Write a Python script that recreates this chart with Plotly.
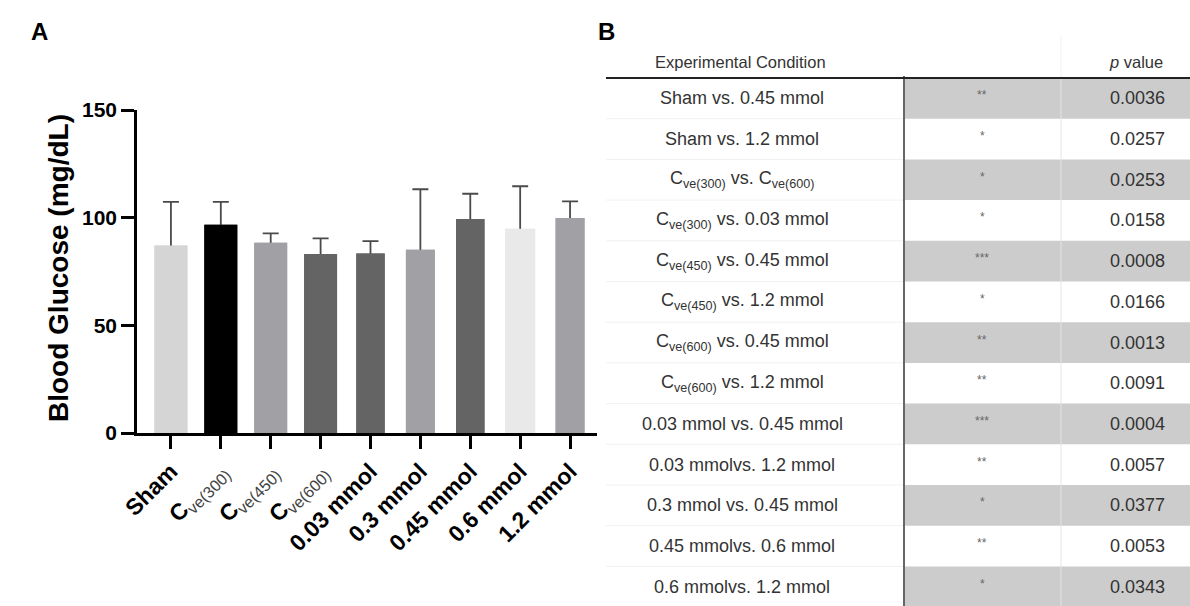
import plotly.graph_objects as go

W, H = 1190, 606

# ---------------- data: panel A ----------------
groups = ["Sham", "Cve300", "Cve450", "Cve600", "0.03 mmol", "0.3 mmol", "0.45 mmol", "0.6 mmol", "1.2 mmol"]
tick_labels = [
    "<b>Sham</b>",
    "<b>C</b><span style='color:#444'><sub>ve(300)</sub></span>",
    "<b>C</b><span style='color:#444'><sub>ve(450)</sub></span>",
    "<b>C</b><span style='color:#444'><sub>ve(600)</sub></span>",
    "<b>0.03 mmol</b>",
    "<b>0.3 mmol</b>",
    "<b>0.45 mmol</b>",
    "<b>0.6 mmol</b>",
    "<b>1.2 mmol</b>",
]
glucose_mean = [87.1, 96.7, 88.4, 83.1, 83.4, 85.1, 99.4, 94.8, 99.8]
glucose_err = [20.2, 10.6, 4.3, 7.3, 5.7, 28.1, 11.7, 19.8, 7.8]
y_ticks = [0, 50, 100, 150]

# ---------------- data: panel B ----------------
comparisons = [
    "Sham vs. 0.45 mmol",
    "Sham vs. 1.2 mmol",
    "C<sub>ve(300)</sub> vs. C<sub>ve(600)</sub>",
    "C<sub>ve(300)</sub> vs. 0.03 mmol",
    "C<sub>ve(450)</sub> vs. 0.45 mmol",
    "C<sub>ve(450)</sub> vs. 1.2 mmol",
    "C<sub>ve(600)</sub> vs. 0.45 mmol",
    "C<sub>ve(600)</sub> vs. 1.2 mmol",
    "0.03 mmol vs. 0.45 mmol",
    "0.03 mmolvs. 1.2 mmol",
    "0.3 mmol vs. 0.45 mmol",
    "0.45 mmolvs. 0.6 mmol",
    "0.6 mmolvs. 1.2 mmol",
]
significance = ["**", "*", "*", "*", "***", "*", "**", "**", "***", "**", "*", "**", "*"]
p_values = ["0.0036", "0.0257", "0.0253", "0.0158", "0.0008", "0.0166", "0.0013",
            "0.0091", "0.0004", "0.0057", "0.0377", "0.0053", "0.0343"]

# ---------------- styles ----------------
bar_colors = ["#d5d5d5", "#000000", "#a1a1a5", "#646464", "#646464",
              "#a1a1a5", "#646464", "#e9e9e9", "#a1a1a5"]
bar_widths = [0.66, 0.66, 0.66, 0.66, 0.57, 0.58, 0.57, 0.6, 0.58]
FONT = "Liberation Sans, Arial, sans-serif"
TFONT = "Liberation Sans, Arial, sans-serif"

fig = go.Figure()
xs = list(range(len(groups)))

# bars carrying the error bars (lower cap hidden by the overlay bars)
fig.add_trace(go.Bar(
    x=xs, y=glucose_mean, width=bar_widths,
    marker=dict(color=bar_colors, line=dict(width=0)),
    error_y=dict(type="data", symmetric=False, array=glucose_err,
                 arrayminus=[2] * len(groups), color="#4a4a4a", thickness=1.8, width=8),
    showlegend=False, hoverinfo="skip"))
fig.add_trace(go.Bar(
    x=xs, y=glucose_mean, width=bar_widths,
    marker=dict(color=bar_colors, line=dict(width=0)),
    showlegend=False, hoverinfo="skip"))

# pixel-space helper axes for panel labels and the table
fig.add_trace(go.Scatter(x=[None], y=[None], xaxis="x2", yaxis="y2",
                         showlegend=False, hoverinfo="skip"))

x_left, x_right = 137, 597
y_top, y_zero = 110, 433

fig.update_layout(
    template="none",
    width=W, height=H, margin=dict(l=0, r=0, t=0, b=0, pad=0),
    paper_bgcolor="white", plot_bgcolor="rgba(0,0,0,0)",
    barmode="overlay",
    font=dict(family=FONT, color="black"),
    xaxis=dict(domain=[x_left / W, x_right / W], range=[-0.68, 8.54],
               tickvals=xs, ticktext=tick_labels, tickangle=-45,
               ticks="outside", ticklen=13, tickwidth=2.5, tickcolor="black",
               showline=True, linecolor="black", linewidth=2.5,
               showgrid=False, zeroline=False, anchor="y", automargin=False,
               tickfont=dict(family=FONT, size=23, color="black")),
    yaxis=dict(domain=[(H - y_zero) / H, (H - y_top) / H], range=[0, 150],
               tickvals=y_ticks, ticks="outside", ticklen=13, tickwidth=2.5,
               tickcolor="black", showline=True, linecolor="black", linewidth=2.5,
               showgrid=False, zeroline=False, anchor="x", automargin=False,
               tickfont=dict(family=FONT, size=21, color="black", weight="bold")),
    xaxis2=dict(domain=[0, 1], range=[0, W], visible=False, anchor="y2",
                fixedrange=True, automargin=False, showgrid=False, zeroline=False),
    yaxis2=dict(domain=[0, 1], range=[H, 0], visible=False, anchor="x2",
                fixedrange=True, automargin=False, showgrid=False, zeroline=False),
)

ann = []
shapes = []

# Panel labels and y title
ann.append(dict(x=39, y=31, xref="x2", yref="y2", text="<b>A</b>", showarrow=False,
                font=dict(family=FONT, size=24, color="black")))
ann.append(dict(x=606, y=31, xref="x2", yref="y2", text="<b>B</b>", showarrow=False,
                font=dict(family=FONT, size=24, color="black")))
ann.append(dict(x=58, y=268, xref="x2", yref="y2", text="<b>Blood Glucose (mg/dL)</b>",
                textangle=-90, showarrow=False,
                font=dict(family=FONT, size=28, color="black")))

# ---------------- table ----------------
head_bottom = 78
row_h = 40.7
col1_l, col_div, col_sep, col_r = 606, 904, 1061, W
n = len(comparisons)

for i in range(n):
    y0 = head_bottom + i * row_h
    y1 = y0 + row_h
    if i % 2 == 0:
        shapes.append(dict(type="rect", xref="x2", yref="y2", x0=col_div, x1=col_r,
                           y0=y0, y1=y1, fillcolor="#cccccc", line=dict(width=0), layer="below"))
    if i > 0:
        shapes.append(dict(type="line", xref="x2", yref="y2", x0=col1_l, x1=col_div,
                           y0=y0, y1=y0, line=dict(color="#f1f1f1", width=1)))
    yc = y0 + row_h / 2
    ann.append(dict(x=742, y=yc, xref="x2", yref="y2", text=comparisons[i], showarrow=False,
                    xanchor="center", yanchor="middle",
                    font=dict(family=TFONT, size=18, color="#333333")))
    ann.append(dict(x=982, y=yc - 3, xref="x2", yref="y2", text=significance[i], showarrow=False,
                    xanchor="center", yanchor="middle",
                    font=dict(family=TFONT, size=12, color="#666666")))
    ann.append(dict(x=1167, y=yc, xref="x2", yref="y2", text=p_values[i], showarrow=False,
                    xanchor="right", yanchor="middle",
                    font=dict(family=TFONT, size=18, color="#333333")))

# separators
shapes.append(dict(type="line", xref="x2", yref="y2", x0=col_sep, x1=col_sep,
                   y0=head_bottom, y1=H, line=dict(color="#e4e4e4", width=1)))
shapes.append(dict(type="line", xref="x2", yref="y2", x0=col_sep, x1=col_sep,
                   y0=35, y1=head_bottom, line=dict(color="#f3f3f3", width=1)))
shapes.append(dict(type="line", xref="x2", yref="y2", x0=col_div, x1=col_div,
                   y0=head_bottom - 2, y1=H, line=dict(color="#666666", width=2)))
shapes.append(dict(type="line", xref="x2", yref="y2", x0=col1_l, x1=col_r,
                   y0=head_bottom, y1=head_bottom, line=dict(color="#222222", width=2)))

# header
ann.append(dict(x=740, y=62, xref="x2", yref="y2", text="Experimental Condition", showarrow=False,
                xanchor="center", yanchor="middle",
                font=dict(family=TFONT, size=16.5, color="#333333")))
ann.append(dict(x=1165, y=62, xref="x2", yref="y2", text="<i>p</i> value", showarrow=False,
                xanchor="right", yanchor="middle",
                font=dict(family=TFONT, size=16.5, color="#333333")))

fig.update_layout(annotations=ann, shapes=shapes)
fig.write_html("out.html")
